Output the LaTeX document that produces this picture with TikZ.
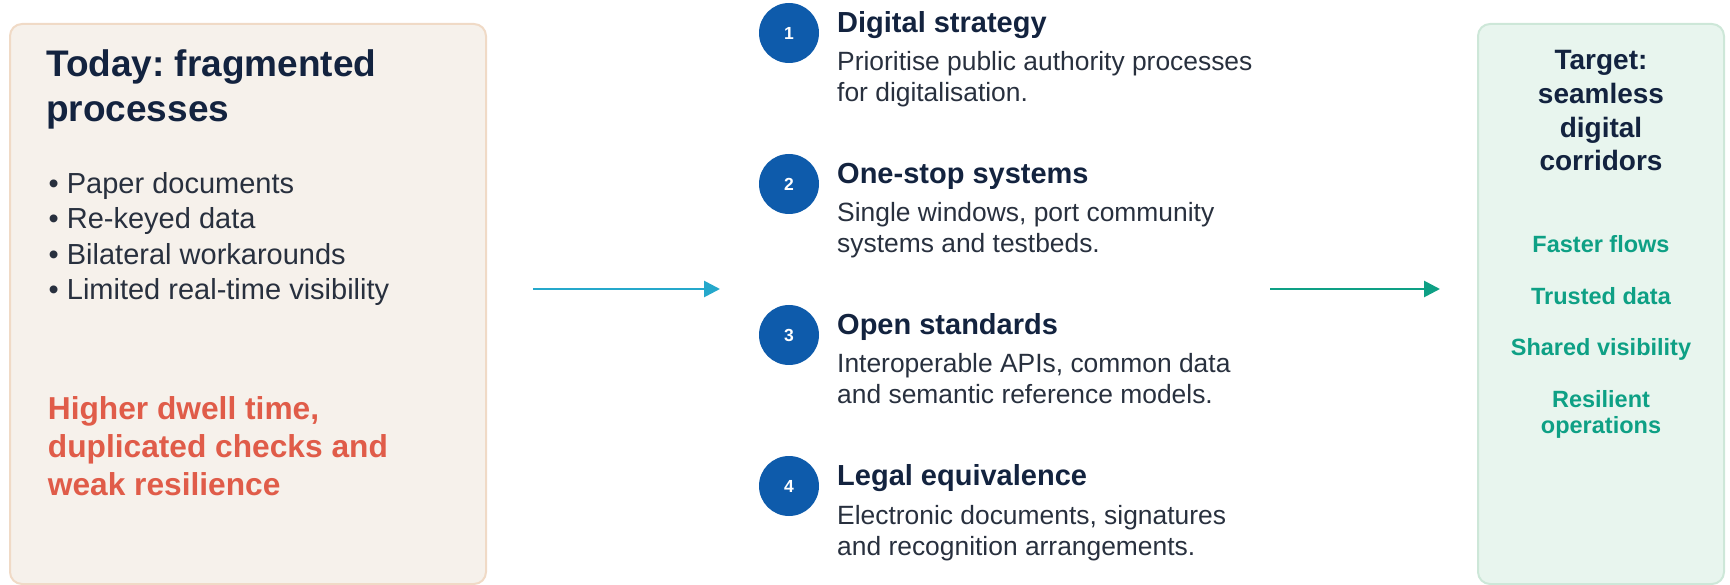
\documentclass[tikz,border=0pt]{standalone}
\usepackage{fontspec}
\setmainfont{Liberation Sans}
\usetikzlibrary{arrows.meta}
\frenchspacing

\definecolor{navy}{HTML}{13233F}
\definecolor{bodytext}{HTML}{28303E}
\definecolor{alertred}{HTML}{E05C49}
\definecolor{warmfill}{HTML}{F6F1EB}
\definecolor{warmedge}{HTML}{F0DAC6}
\definecolor{coolfill}{HTML}{E8F5EE}
\definecolor{cooledge}{HTML}{CDE7D8}
\definecolor{stepblue}{HTML}{0E5BAB}
\definecolor{flowcyan}{HTML}{25A8CB}
\definecolor{flowteal}{HTML}{0EA085}

\begin{document}
\begin{tikzpicture}[x=1pt, y=-1pt,
  panel/.style={rounded corners=12pt, line width=2pt, inner sep=0pt},
  txt/.style={inner sep=0pt, anchor=base west},
  ctxt/.style={inner sep=0pt, anchor=base},
  bigtitle/.style={txt, text=navy, font=\fontsize{37}{44}\selectfont\bfseries},
  bullet/.style={txt, text=bodytext, font=\fontsize{29}{35}\selectfont},
  alert/.style={txt, text=alertred, font=\fontsize{31.7}{38}\selectfont\bfseries},
  stephead/.style={txt, text=navy, font=\fontsize{29}{35}\selectfont\bfseries},
  stepdesc/.style={txt, text=bodytext, font=\fontsize{26.4}{31}\selectfont},
  badge/.style={circle, fill=stepblue, minimum size=60pt, inner sep=0pt,
    text=white, font=\fontsize{17.5}{20}\selectfont\bfseries},
  goaltitle/.style={ctxt, text=navy, font=\fontsize{28}{34}\selectfont\bfseries},
  goalitem/.style={ctxt, text=flowteal, font=\fontsize{23.5}{27}\selectfont\bfseries},
  flow/.style={line width=2.7pt, -{Triangle[length=16pt,width=16pt]}}
]
\useasboundingbox (0,0) rectangle (1730,585);

% ---- current state panel ----
\node[panel, draw=warmedge, fill=warmfill, minimum width=476pt, minimum height=560pt] (today) at (248,304) {};
\node[bigtitle] (t1) at (46,77) {Today: fragmented};
\node[bigtitle] (t2) at (46,121.5) {processes};
\node[bullet] (b1) at (48.5,194) {• Paper documents};
\node[bullet] (b2) at (48.5,229) {• Re-keyed data};
\node[bullet] (b3) at (48.5,264.5) {• Bilateral workarounds};
\node[bullet] (b4) at (48.5,299.5) {• Limited real-time visibility};
\node[alert] (r1) at (47.7,419.5) {Higher dwell time,};
\node[alert] (r2) at (47.7,457) {duplicated checks and};
\node[alert] (r3) at (47.7,495) {weak resilience};

% ---- four enabling steps ----
\node[badge] (n1) at (789,33) {1};
\node[stephead] (h1) at (837,32.5) {Digital strategy};
\node[stepdesc] (d1a) at (837,70.5) {Prioritise public authority processes};
\node[stepdesc] (d1b) at (837,101.5) {for digitalisation.};

\node[badge] (n2) at (789,184) {2};
\node[stephead] (h2) at (837,183.5) {One-stop systems};
\node[stepdesc] (d2a) at (837,221.5) {Single windows, port community};
\node[stepdesc] (d2b) at (837,252.5) {systems and testbeds.};

\node[badge] (n3) at (789,335) {3};
\node[stephead] (h3) at (837,334.5) {Open standards};
\node[stepdesc] (d3a) at (837,372.7) {Interoperable APIs, common data};
\node[stepdesc] (d3b) at (837,403.7) {and semantic reference models.};

\node[badge] (n4) at (789,486) {4};
\node[stephead] (h4) at (837,485.5) {Legal equivalence};
\node[stepdesc] (d4a) at (837,524) {Electronic documents, signatures};
\node[stepdesc] (d4b) at (837,555.5) {and recognition arrangements.};

% ---- target state panel ----
\node[panel, draw=cooledge, fill=coolfill, minimum width=246pt, minimum height=560pt] (target) at (1601,304) {};
\node[goaltitle] (g1) at (1601,70) {Target:};
\node[goaltitle] (g2) at (1601,103.6) {seamless};
\node[goaltitle] (g3) at (1601,137.2) {digital};
\node[goaltitle] (g4) at (1601,170.8) {corridors};
\node[goalitem] (o1) at (1601,252.5) {Faster flows};
\node[goalitem] (o2) at (1601,304.5) {Trusted data};
\node[goalitem] (o3) at (1601,355.5) {Shared visibility};
\node[goalitem] (o4) at (1601,407.5) {Resilient};
\node[goalitem] (o5) at (1601,433.6) {operations};

% ---- transition arrows ----
\coordinate (f1s) at (533,289);
\coordinate (f1e) at (720,289);
\coordinate (f2s) at (1270,289);
\coordinate (f2e) at (1440,289);
\draw[flow, draw=flowcyan, fill=flowcyan] (f1s) -- (f1e);
\draw[flow, draw=flowteal, fill=flowteal] (f2s) -- (f2e);
\end{tikzpicture}
\end{document}
